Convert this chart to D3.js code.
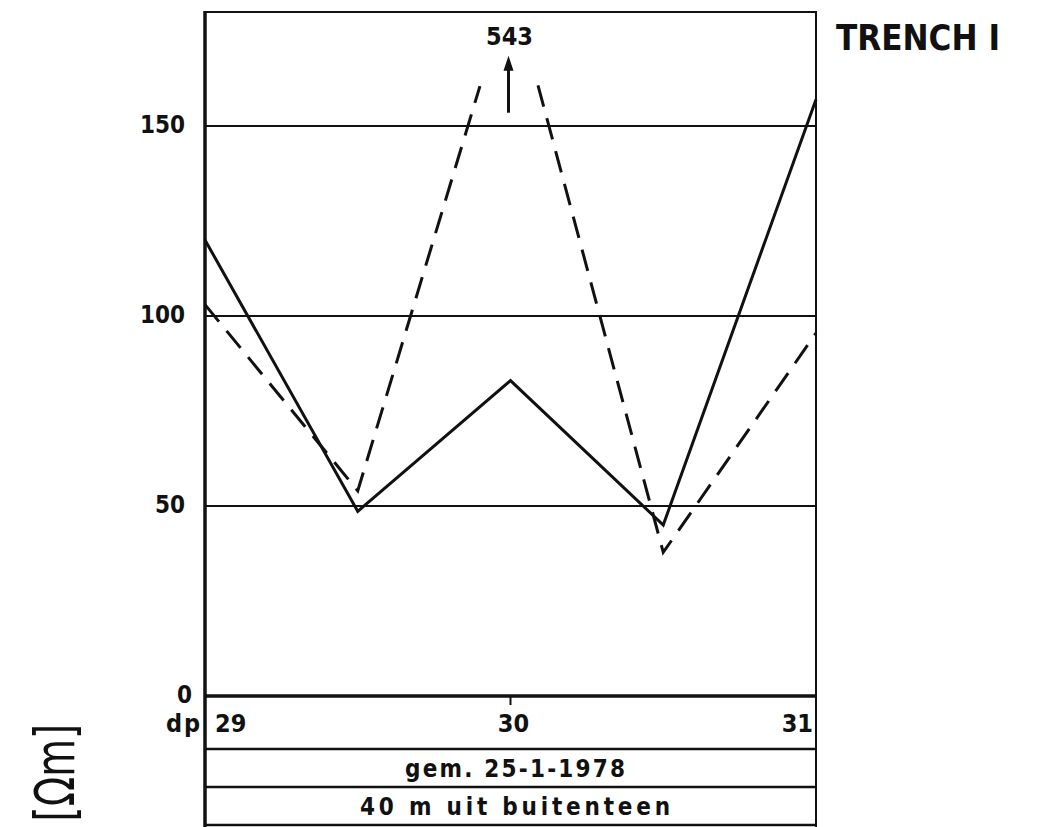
<!DOCTYPE html>
<html>
<head>
<meta charset="utf-8">
<script src="https://cdn.jsdelivr.net/npm/d3@7"></script>
<style>
  body { margin: 0; background: #fff; }
  svg { display: block; }
  text { font-family: "DejaVu Sans Condensed", "DejaVu Sans", sans-serif; fill: #111; font-weight: bold; }
</style>
</head>
<body>
<div class="chart"></div>
<script>
// data
const xTicks = [29, 30, 31];
const yTicks = [0, 50, 100, 150];
const solidX = [29, 29.5, 30, 30.5, 31];
const solidY = [120, 48.6, 83, 45, 157];
// dashed series: its peak (543) is off the scale, so it is drawn broken
const dashedLeftX = [29, 29.5, 29.9];
const dashedLeftY = [103, 54, 160.5];
const dashedRightX = [30.09, 30.5, 31];
const dashedRightY = [160.7, 37.8, 95.5];
const peakValue = 543;
const arrowFrom = 153.5, arrowTo = 168.5;
const rowLabels = ["gem. 25-1-1978", "40 m uit buitenteen"];
const rowLabelWidth = [220, 310];
const title = "TRENCH I";
const unitLabel = "[Ωm]";

const width = 1042, height = 827;
const pLeft = 205, pRight = 816, pTop = 12, zeroY = 696;
const rowY = [749, 787, 825];

const x = d3.scaleLinear().domain([29, 31]).range([pLeft, pRight]);
const y = d3.scaleLinear().domain([0, 180]).range([zeroY, pTop]);

const svg = d3.select(".chart").append("svg")
    .attr("width", width)
    .attr("height", height);

svg.append("rect").attr("width", width).attr("height", height).attr("fill", "#fff");

//grid lines
svg.append("g").selectAll("line")
    .data(yTicks.filter(d => d > 0))
    .enter().append("line")
    .attr("x1", pLeft).attr("x2", pRight)
    .attr("y1", d => y(d)).attr("y2", d => y(d))
    .attr("stroke", "#111").attr("stroke-width", 2);

//y labels
svg.append("g").selectAll("text")
    .data(yTicks)
    .enter().append("text")
    .attr("x", d => d === 0 ? 192 : 185)
    .attr("y", d => y(d) - 1)
    .attr("text-anchor", "end")
    .attr("dominant-baseline", "central")
    .style("font-size", "24px")
    .text(d => d);

//frame
const frame = svg.append("g").attr("stroke", "#111").attr("fill", "none");
frame.append("line").attr("x1", pLeft).attr("x2", pRight).attr("y1", pTop).attr("y2", pTop).attr("stroke-width", 2);
frame.append("line").attr("x1", pLeft).attr("x2", pLeft).attr("y1", pTop - 1).attr("y2", height).attr("stroke-width", 3.5);
frame.append("line").attr("x1", pRight).attr("x2", pRight).attr("y1", pTop - 1).attr("y2", height).attr("stroke-width", 2);
frame.append("line").attr("x1", pLeft).attr("x2", pRight + 1).attr("y1", zeroY).attr("y2", zeroY).attr("stroke-width", 3.5);
frame.selectAll(".row")
    .data(rowY)
    .enter().append("line")
    .attr("x1", pLeft).attr("x2", pRight)
    .attr("y1", d => d).attr("y2", d => d)
    .attr("stroke-width", 2.5);

//tick at 30
frame.append("line")
    .attr("x1", x(30)).attr("x2", x(30))
    .attr("y1", zeroY).attr("y2", zeroY + 9)
    .attr("stroke-width", 2);

//x labels
svg.append("g").selectAll("text")
    .data(xTicks)
    .enter().append("text")
    .attr("x", (d, i) => i === 0 ? x(d) + 10 : i === 2 ? x(d) - 3 : x(d) + 3)
    .attr("y", 732)
    .attr("text-anchor", (d, i) => i === 0 ? "start" : i === 2 ? "end" : "middle")
    .style("font-size", "25px")
    .text(d => d);

svg.append("text")
    .attr("x", 200).attr("y", 732)
    .attr("text-anchor", "end")
    .attr("textLength", 34)
    .attr("lengthAdjust", "spacing")
    .style("font-size", "25px")
    .text("dp");

//row labels
svg.append("g").selectAll("text")
    .data(rowLabels)
    .enter().append("text")
    .attr("x", (d, i) => 515 - rowLabelWidth[i] / 2)
    .attr("y", (d, i) => rowY[i] + 28)
    .attr("textLength", (d, i) => rowLabelWidth[i])
    .attr("lengthAdjust", "spacing")
    .style("font-size", "24px")
    .text(d => d);

//lines
const line = d3.line().x(d => x(d[0])).y(d => y(d[1]));

svg.append("path")
    .datum(d3.zip(solidX, solidY))
    .attr("d", line)
    .attr("fill", "none")
    .attr("stroke", "#111")
    .attr("stroke-width", 3)
    .attr("stroke-linejoin", "miter");

[[dashedLeftX, dashedLeftY], [dashedRightX, dashedRightY]].forEach(function (s) {
    svg.append("path")
        .datum(d3.zip(s[0], s[1]))
        .attr("d", line)
        .attr("fill", "none")
        .attr("stroke", "#111")
        .attr("stroke-width", 3)
        .attr("stroke-dasharray", "22 12");
});

//off-scale peak
svg.append("line")
    .attr("x1", x(30) - 2).attr("x2", x(30) - 2)
    .attr("y1", y(arrowFrom)).attr("y2", y(arrowTo) + 12)
    .attr("stroke", "#111").attr("stroke-width", 3);
svg.append("path")
    .attr("d", d3.line()([[x(30) - 2, y(arrowTo)], [x(30) - 7, y(arrowTo) + 15], [x(30) + 3, y(arrowTo) + 15]]) + "Z")
    .attr("fill", "#111");
svg.append("text")
    .attr("x", x(30) - 1).attr("y", 45)
    .attr("text-anchor", "middle")
    .style("font-size", "25px")
    .text(peakValue);

//title
svg.append("text")
    .attr("x", 836).attr("y", 50)
    .attr("textLength", 164)
    .attr("lengthAdjust", "spacingAndGlyphs")
    .style("font-size", "36px")
    .text(title);

//unit label
svg.append("text")
    .attr("transform", "translate(74,724) rotate(-90) scale(1,1.3)")
    .attr("text-anchor", "end")
    .style("font-size", "43px")
    .style("font-weight", "normal")
    .text(unitLabel);
</script>
</body>
</html>
